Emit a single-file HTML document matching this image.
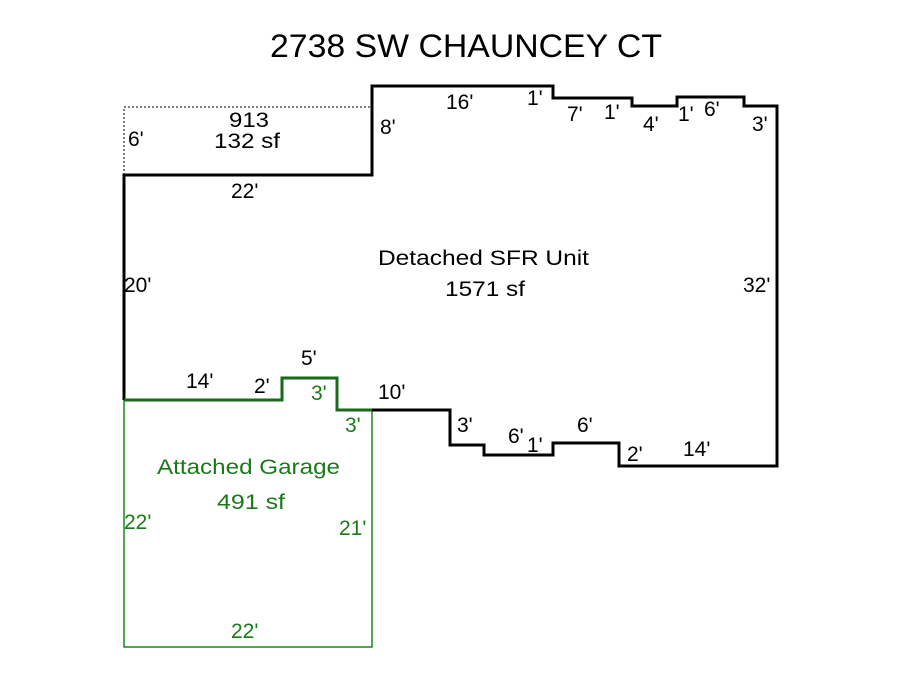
<!DOCTYPE html>
<html><head><style>
html,body{margin:0;padding:0;background:#fff;}
svg{display:block;}
text{font-family:"Liberation Sans",Arial,sans-serif;}
</style></head><body>
<svg width="900" height="675" viewBox="0 0 900 675" xmlns="http://www.w3.org/2000/svg">
<rect width="900" height="675" fill="#fff"/>
<text x="270" y="57" font-size="32" textLength="392" lengthAdjust="spacingAndGlyphs" fill="#000">2738 SW CHAUNCEY CT</text>
<path d="M124,175 V107 H372" fill="none" stroke="#000" stroke-width="1" stroke-dasharray="2,2"/>
<path d="M124,400 V647 H372 V410" fill="none" stroke="#1a8a1a" stroke-width="1.5"/>
<path d="M124,400 V175 H372 V86 H553 V98 H632 V106 H677 V97 H744 V106 H777 V466 H619 V443 H553 V455 H484 V445 H450 V410 H372" fill="none" stroke="#000" stroke-width="3"/>
<path d="M124,400 H282 V378 H337 V410 H372" fill="none" stroke="#1a6a1a" stroke-width="3"/>
<g font-size="21" fill="#000">
<text x="229" y="127" textLength="40" lengthAdjust="spacingAndGlyphs">913</text>
<text x="214" y="148" textLength="66" lengthAdjust="spacingAndGlyphs">132 sf</text>
<text x="128" y="146">6'</text>
<text x="380" y="134">8'</text>
<text x="231" y="198">22'</text>
<text x="446" y="109">16'</text>
<text x="527" y="105">1'</text>
<text x="567" y="121">7'</text>
<text x="604" y="119">1'</text>
<text x="643" y="131">4'</text>
<text x="678" y="121">1'</text>
<text x="704" y="116">6'</text>
<text x="752" y="131">3'</text>
<text x="743" y="292">32'</text>
<text x="124" y="292">20'</text>
<text x="378" y="265" textLength="211" lengthAdjust="spacingAndGlyphs">Detached SFR Unit</text>
<text x="445" y="296" textLength="80" lengthAdjust="spacingAndGlyphs">1571 sf</text>
<text x="186" y="388">14'</text>
<text x="254" y="393">2'</text>
<text x="301" y="365">5'</text>
<text x="378" y="399">10'</text>
<text x="457" y="432">3'</text>
<text x="508" y="443">6'</text>
<text x="527" y="452">1'</text>
<text x="577" y="432">6'</text>
<text x="627" y="461">2'</text>
<text x="683" y="456">14'</text>
</g>
<g font-size="21" fill="#1a7a1a">
<text x="311" y="400">3'</text>
<text x="345" y="432">3'</text>
<text x="157" y="474" textLength="183" lengthAdjust="spacingAndGlyphs">Attached Garage</text>
<text x="217" y="509" textLength="68" lengthAdjust="spacingAndGlyphs">491 sf</text>
<text x="124" y="529">22'</text>
<text x="339" y="535">21'</text>
<text x="231" y="638">22'</text>
</g>
</svg>
</body></html>
